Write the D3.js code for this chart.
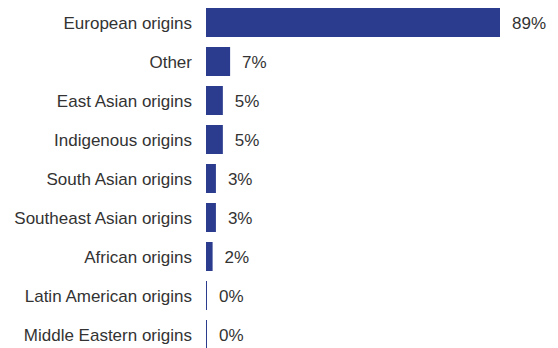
<!DOCTYPE html>
<html>
<head>
<meta charset="utf-8">
<script src="https://cdn.jsdelivr.net/npm/d3@7"></script>
<style>
  body { margin: 0; background: #fff; }
  svg text { font-family: "Liberation Sans", Arial, sans-serif; fill: #333; }
</style>
</head>
<body>
<div id="graph"></div>
<script>
// categories and shares (%)
var categories = ["European origins", "Other", "East Asian origins", "Indigenous origins",
    "South Asian origins", "Southeast Asian origins", "African origins",
    "Latin American origins", "Middle Eastern origins"];
var values = [89, 7.3, 5.1, 5.1, 3.0, 3.0, 2.0, 0.2, 0.2];
var valueLabels = ["89%", "7%", "5%", "5%", "3%", "3%", "2%", "0%", "0%"];

var width = 558;
var height = 348;
var textSize = 17;

var data = categories.map(function(c, i) {
    return { cat: c, value: values[i], label: valueLabels[i] };
});

var svg = d3.select('#graph')
    .append('svg')
    .attr('width', width)
    .attr('height', height);

var x = d3.scaleLinear()
    .domain([0, 89])
    .range([206, 500]);

var y = d3.scaleBand()
    .domain(categories)
    .range([3, 3 + categories.length * 39])
    .paddingInner(10 / 39)
    .paddingOuter(5 / 39);

// bars (zero values still get a hairline)
svg.append("g")
    .selectAll("rect")
    .data(data)
    .enter()
    .append("rect")
    .attr("x", x(0))
    .attr("y", d => y(d.cat))
    .attr("width", d => Math.max(1, x(d.value) - x(0)))
    .attr("height", y.bandwidth())
    .style("fill", "#2b3c8f");

// category labels
svg.append("g")
    .selectAll("text")
    .data(data)
    .enter()
    .append("text")
    .text(d => d.cat)
    .attr("x", 192)
    .attr("y", d => y(d.cat) + y.bandwidth() / 2)
    .attr("dy", "0.38em")
    .style("text-anchor", "end")
    .style("font-size", textSize + "px");

// value labels
svg.append("g")
    .selectAll("text")
    .data(data)
    .enter()
    .append("text")
    .text(d => d.label)
    .attr("x", d => x(0) + Math.max(1, x(d.value) - x(0)) + 12)
    .attr("y", d => y(d.cat) + y.bandwidth() / 2)
    .attr("dy", "0.38em")
    .style("font-size", textSize + "px");
</script>
</body>
</html>
